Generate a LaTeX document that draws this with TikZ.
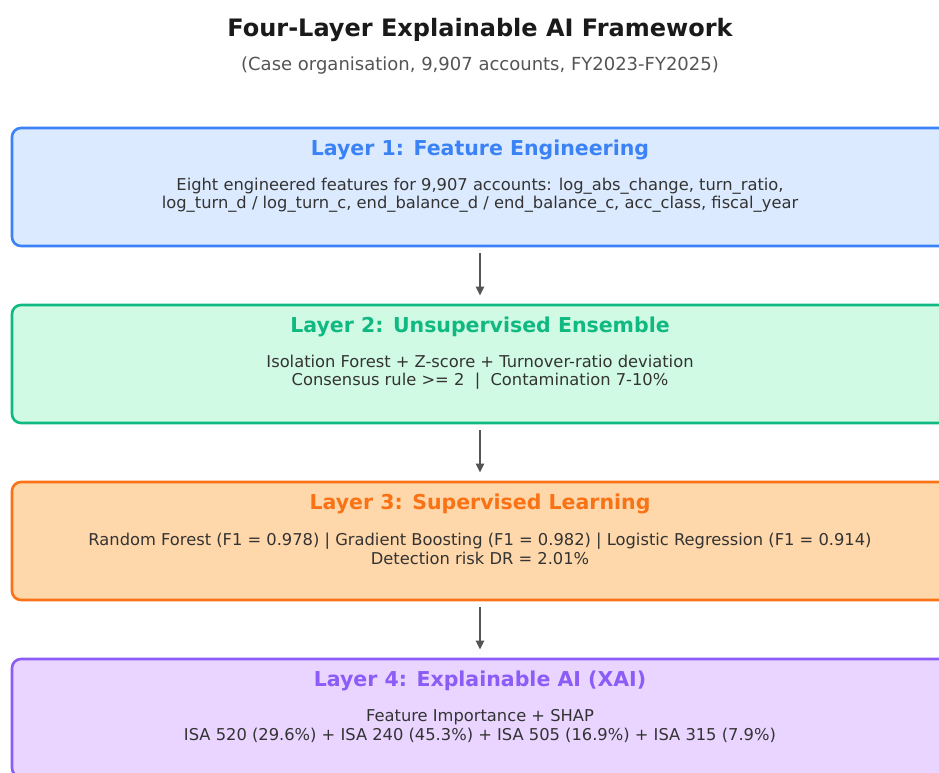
\documentclass[tikz,border=0pt]{standalone}
\usepackage{fontspec}
\setmainfont{DejaVu Sans}
\usetikzlibrary{arrows.meta}
\definecolor{ttl}{HTML}{1A1A1A}
\definecolor{sub}{HTML}{555555}
\definecolor{body}{HTML}{333333}
\definecolor{arrc}{HTML}{555555}
\definecolor{bA}{HTML}{3B82F6}\definecolor{fA}{HTML}{DBEAFE}
\definecolor{bB}{HTML}{10B981}\definecolor{fB}{HTML}{D1FAE5}
\definecolor{bC}{HTML}{F97316}\definecolor{fC}{HTML}{FED7AA}
\definecolor{bD}{HTML}{8B5CF6}\definecolor{fD}{HTML}{E9D5FF}
\tikzset{
  layerbox/.style={draw=#1, line width=2.6pt, rounded corners=9pt, minimum width=936pt, minimum height=118pt, inner sep=0pt},
  layertitle/.style={text=#1, font=\bfseries\fontsize{20.5}{24}\selectfont, inner sep=0pt},
  layerbody/.style={text=body, font=\fontsize{16.3}{18.5}\selectfont, align=center, inner sep=0pt},
  arr/.style={draw=arrc, line width=2.2pt, -{Triangle[length=9pt,width=8pt]}, shorten <=6pt, shorten >=8pt}
}
\begin{document}
\begin{tikzpicture}[x=1pt,y=-1pt]
\useasboundingbox (0,0) rectangle (939,772);
\clip (0,0) rectangle (939,772);
\fill[white] (0,0) rectangle (939,772);
\node[text=ttl, font=\bfseries\fontsize{24}{28}\selectfont] (title) at (480,30) {Four-Layer Explainable AI Framework};
\node[text=sub, font=\fontsize{18}{21}\selectfont] (subtitle) at (480,66) {(Case organisation, 9,907 accounts, FY2023-FY2025)};

\node[layerbox=bA, fill=fA] (l1) at (480,187) {};
\node[layerbox=bB, fill=fB] (l2) at (480,364) {};
\node[layerbox=bC, fill=fC] (l3) at (480,541) {};
\node[layerbox=bD, fill=fD] (l4) at (480,718) {};

\node[layertitle=bA] (t1) at (480,150) {Layer 1: Feature Engineering};
\node[layerbody] (d1) at (480,195) {Eight engineered features for 9,907 accounts: log\_abs\_change, turn\_ratio,\\log\_turn\_d / log\_turn\_c, end\_balance\_d / end\_balance\_c, acc\_class, fiscal\_year};
\node[layertitle=bB] (t2) at (480,327) {Layer 2: Unsupervised Ensemble};
\node[layerbody] (d2) at (480,372) {Isolation Forest + Z-score + Turnover-ratio deviation\\Consensus rule >= 2 \ | \ Contamination 7-10\%};
\node[layertitle=bC] (t3) at (480,504) {Layer 3: Supervised Learning};
\node[layerbody] (d3) at (480,549) {Random Forest (F1 = 0.978) | Gradient Boosting (F1 = 0.982) | Logistic Regression (F1 = 0.914)\\Detection risk DR = 2.01\%};
\node[layertitle=bD] (t4) at (480,681) {Layer 4: Explainable AI (XAI)};
\node[layerbody] (d4) at (480,726) {Feature Importance + SHAP\\ISA 520 (29.6\%) + ISA 240 (45.3\%) + ISA 505 (16.9\%) + ISA 315 (7.9\%)};

\draw[arr] (l1) -- (l2);
\draw[arr] (l2) -- (l3);
\draw[arr] (l3) -- (l4);
\end{tikzpicture}
\end{document}
